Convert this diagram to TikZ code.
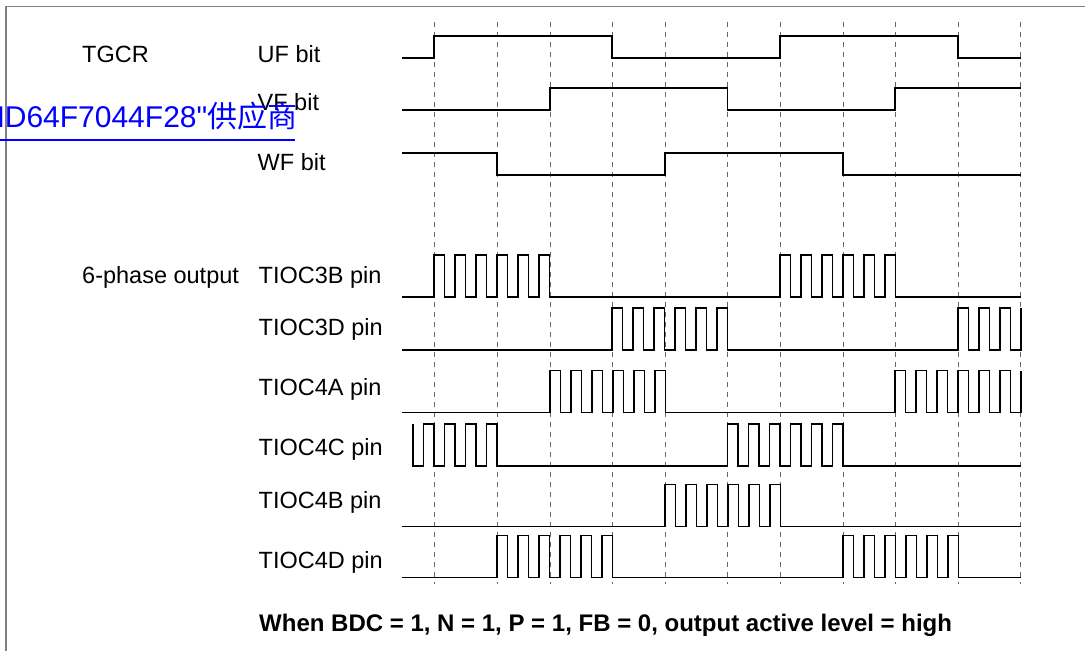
\documentclass[tikz,border=0pt]{standalone}
\usepackage{fontspec}
\setmainfont{Liberation Sans}
\newfontfamily\linkfont{Liberation Sans}
\newfontfamily\cjk{Noto Sans CJK SC}
\usetikzlibrary{positioning}
\definecolor{linkblue}{RGB}{0,0,255}
\tikzset{
  wave/.style={line width=1.3pt, line join=miter},
  gridline/.style={black!60, line width=0.9pt, dash pattern=on 5pt off 5pt},
  lbl/.style={anchor=base west, inner sep=0pt, font=\fontsize{23.5}{28}\selectfont},
}

\begin{document}
\begin{tikzpicture}[x=1pt, y=-1pt]
  \useasboundingbox (0,0) rectangle (1085,651);
  % frame
  \draw[black!50, line width=1.5pt] (6,651) -- (6,6.5) -- (1085,6.5);

  % commutation grid
  \foreach \gx in {434,497,550,612,665,727.5,780,843,895,958,1020.5}
    \draw[gridline] (\gx,22) -- (\gx,584);

  % labels
  \node[lbl] (tgcr) at (82,62.7) {TGCR};
  \node[lbl] (uf) at (257.5,62.7) {UF bit};
  \node[lbl] (vf) at (257.5,110.7) {VF bit};
  \node[lbl] (wf) at (257.5,170) {WF bit};
  \node[lbl] (six) at (82,283.3) {6-phase output};
  \node[lbl] (p3b) at (258.5,283.3) {TIOC3B pin};
  \node[lbl] (p3d) at (258.5,335) {TIOC3D pin};
  \node[lbl] (p4a) at (258.5,395) {TIOC4A pin};
  \node[lbl] (p4c) at (258.5,455) {TIOC4C pin};
  \node[lbl] (p4b) at (258.5,508.3) {TIOC4B pin};
  \node[lbl] (p4d) at (258.5,568.3) {TIOC4D pin};
  \node[anchor=base west, inner sep=0pt, font=\fontsize{24}{28}\selectfont\bfseries]
    (cond) at (259,631) {When BDC = 1, N = 1, P = 1, FB = 0, output active level = high};

  % TGCR bits
  \draw[wave] (402,58) -- (434,58) -- (434,36) -- (612,36) -- (612,58)
    -- (780,58) -- (780,36) -- (958,36) -- (958,58) -- (1020.5,58);
  \draw[wave] (402,110) -- (550,110) -- (550,88) -- (727.5,88) -- (727.5,110)
    -- (895,110) -- (895,88) -- (1020.5,88);
  \draw[wave] (402,153) -- (497,153) -- (497,175) -- (665,175) -- (665,153)
    -- (843,153) -- (843,175) -- (1020.5,175);

  % 6-phase outputs
  \draw[wave] (402,297) -- (434,297)
    \foreach \k in {1,...,6}{ -- ++(0,-42) -- ++(10.5,0) -- ++(0,42) -- ++(10.5,0)}
    -- (780,297)
    \foreach \k in {1,...,6}{ -- ++(0,-42) -- ++(10.5,0) -- ++(0,42) -- ++(10.5,0)}
    -- (1020.5,297);
  \draw[wave] (402,350) -- (612,350)
    \foreach \k in {1,...,6}{ -- ++(0,-42) -- ++(10.5,0) -- ++(0,42) -- ++(10.5,0)}
    -- (958,350)
    \foreach \k in {1,...,3}{ -- ++(0,-42) -- ++(10.5,0) -- ++(0,42) -- ++(10.5,0)}
    -- ++(0,-42);
  \draw[wave] (402,412.7) -- (550,412.7)
    \foreach \k in {1,...,6}{ -- ++(0,-42) -- ++(10.5,0) -- ++(0,42) -- ++(10.5,0)}
    -- (895,412.7)
    \foreach \k in {1,...,6}{ -- ++(0,-42) -- ++(10.5,0) -- ++(0,42) -- ++(10.5,0)}
    -- ++(0,-42);
  \draw[wave] (413,424.3) -- (413,466) -- ++(10.5,0)
    \foreach \k in {1,...,4}{ -- ++(0,-42) -- ++(10.5,0) -- ++(0,42) -- ++(10.5,0)}
    -- (727.5,466)
    \foreach \k in {1,...,6}{ -- ++(0,-42) -- ++(10.5,0) -- ++(0,42) -- ++(10.5,0)}
    -- (1020.5,466);
  \draw[wave] (402,526.7) -- (665,526.7)
    \foreach \k in {1,...,6}{ -- ++(0,-42) -- ++(10.5,0) -- ++(0,42) -- ++(10.5,0)}
    -- (1020.5,526.7);
  \draw[wave] (402,577.3) -- (497,577.3)
    \foreach \k in {1,...,6}{ -- ++(0,-42) -- ++(10.5,0) -- ++(0,42) -- ++(10.5,0)}
    -- (843,577.3)
    \foreach \k in {1,...,6}{ -- ++(0,-42) -- ++(10.5,0) -- ++(0,42) -- ++(10.5,0)}
    -- (1020.5,577.3);

  % overlaid link text
  \begin{scope}
    \clip (0,0) rectangle (1085,651);
    \node[anchor=base west, inner sep=0pt, text=linkblue,
          font=\fontsize{30}{34}\selectfont\linkfont] (link) at (-17,127.3)
      {HD64F7044F28"{\cjk 供应商}};
    \draw[linkblue, line width=2pt] (0,139.5) -- (295,139.5);
  \end{scope}
\end{tikzpicture}
\end{document}
